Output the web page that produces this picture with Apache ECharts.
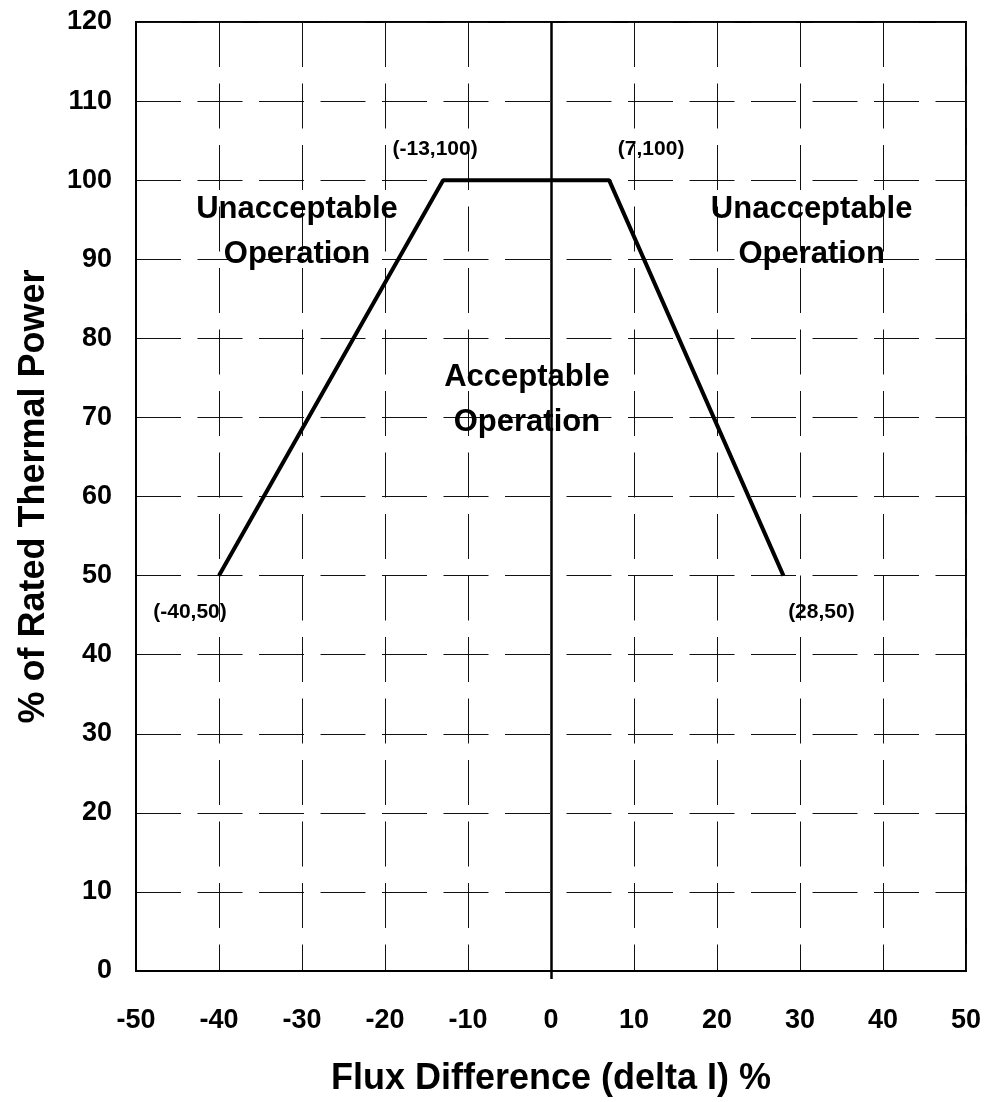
<!DOCTYPE html>
<html>
<head>
<meta charset="utf-8">
<script src="https://cdn.jsdelivr.net/npm/echarts@6/dist/echarts.min.js"></script>
<style>
html,body{margin:0;padding:0;background:#fff;}
#chart{width:986px;height:1102px;}
</style>
</head>
<body>
<div id="chart"></div>
<script>
// Limit line points: [flux difference %, % rated thermal power]
const limitX = [-40, -13, 7, 28];
const limitY = [50, 100, 100, 50];
const pointLabels = ['(-40,50)', '(-13,100)', '(7,100)', '(28,50)'];
const pointLabelOffsets = [[-29, 37], [-8, -31], [42, -31], [38, 37]];

// Region annotations
const regionTexts = ['Unacceptable\nOperation', 'Acceptable\nOperation', 'Unacceptable\nOperation'];
const regionX = [-30.6, -2.9, 31.4];
const regionY = [93.4, 72.2, 93.4];

const xMin = -50, xMax = 50, xStep = 10;
const yMin = 0, yMax = 120, yStep = 10;

const FONT = 'Liberation Sans, Arial, sans-serif';

const chart = echarts.init(document.getElementById('chart'), null, {renderer: 'canvas'});

const linePts = limitX.map((x, i) => [x, limitY[i]]);
const labelPts = limitX.map((x, i) => ({
  value: [x, limitY[i]],
  label: {
    show: true, formatter: pointLabels[i], position: 'inside',
    offset: pointLabelOffsets[i],
    fontFamily: FONT, fontWeight: 'bold', fontSize: 21, color: '#000'
  }
}));
const regionPts = regionX.map((x, i) => ({
  value: [x, regionY[i]],
  label: {
    show: true, formatter: regionTexts[i], position: 'inside',
    fontFamily: FONT, fontWeight: 'bold', fontSize: 31, lineHeight: 45, color: '#000', align: 'center'
  }
}));

const dash = {color: '#111', width: 1, type: [45, 16.5]};

chart.setOption({
  backgroundColor: '#fff',
  animation: false,
  grid: {left: 136, top: 22, right: 20, bottom: 130, show: true, borderColor: '#000', borderWidth: 2, backgroundColor: 'transparent'},
  xAxis: [{
    type: 'value', min: xMin, max: xMax, interval: xStep,
    name: 'Flux Difference (delta I) %', nameLocation: 'middle', nameGap: 90,
    nameTextStyle: {fontFamily: FONT, fontWeight: 'bold', fontSize: 36, color: '#000'},
    axisLine: {show: true, onZero: false, lineStyle: {color: '#000', width: 2}},
    axisTick: {show: false},
    axisLabel: {margin: 36, fontFamily: FONT, fontWeight: 'bold', fontSize: 27, color: '#000'},
    splitLine: {show: true, lineStyle: dash}
  }, {
    type: 'value', min: xMin, max: xMax, interval: xStep, position: 'bottom',
    axisLine: {show: false}, axisLabel: {show: false}, splitLine: {show: false},
    axisTick: {show: true, customValues: [0], length: 8, inside: false, lineStyle: {color: '#000', width: 2.5}}
  }],
  yAxis: {
    type: 'value', min: yMin, max: yMax, interval: yStep,
    name: '% of Rated Thermal Power', nameLocation: 'middle', nameGap: 84, nameRotate: 90,
    nameTextStyle: {fontFamily: FONT, fontWeight: 'bold', fontSize: 36, color: '#000'},
    axisLine: {show: true, onZero: false, lineStyle: {color: '#000', width: 2}},
    axisTick: {show: false},
    axisLabel: {margin: 24, fontFamily: FONT, fontWeight: 'bold', fontSize: 27, color: '#000'},
    splitLine: {show: true, lineStyle: dash}
  },
  series: [
    {
      type: 'line', data: linePts, symbol: 'none',
      lineStyle: {color: '#000', width: 4}, z: 5,
      markLine: {
        silent: true, symbol: 'none', label: {show: false},
        lineStyle: {color: '#000', width: 2.5, type: 'solid'},
        data: [{xAxis: 0}]
      }
    },
    {
      type: 'scatter', data: labelPts, symbolSize: 0, z: 6, itemStyle: {opacity: 1}
    },
    {
      type: 'scatter', data: regionPts, symbolSize: 0, z: 6, itemStyle: {opacity: 1}
    }
  ]
});
</script>
</body>
</html>
